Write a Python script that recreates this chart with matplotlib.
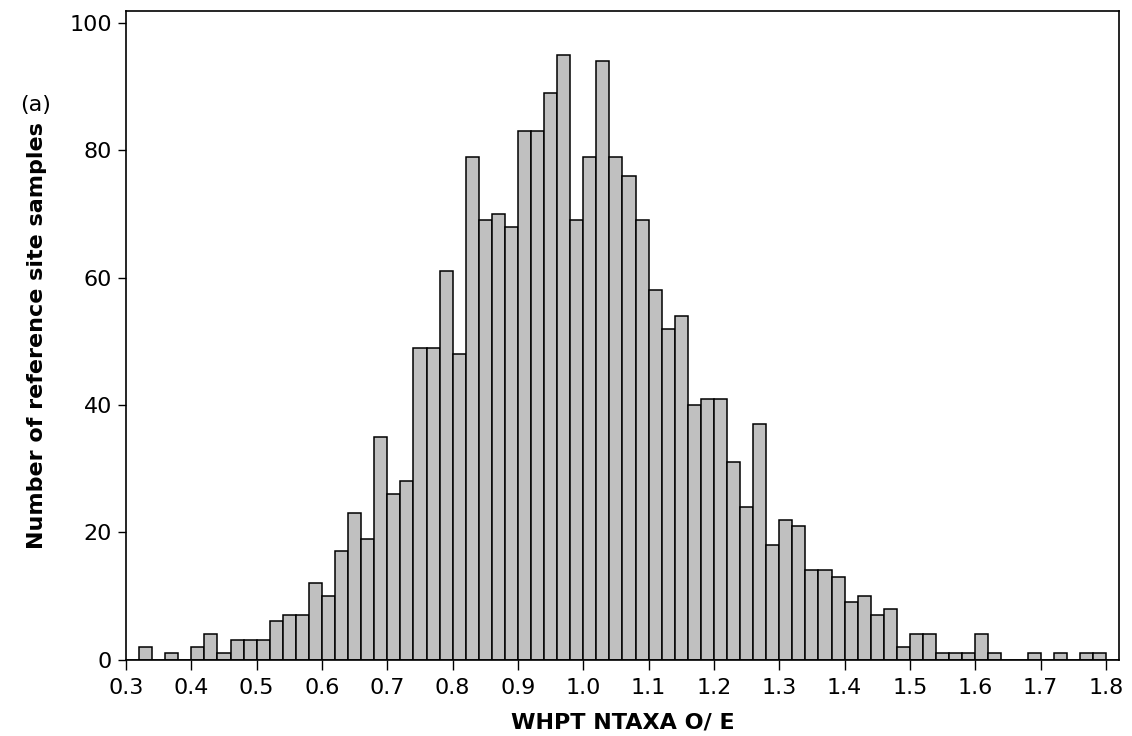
import numpy as np
import matplotlib
matplotlib.use("Agg")
import matplotlib.pyplot as plt

# histogram data (bin width 0.02, starting at 0.30)
bin_start = 0.30
bin_width = 0.02
counts = [0, 2, 0, 1, 0, 2, 4, 1, 3, 3,
          3, 6, 7, 7, 12, 10, 17, 23, 19, 35,
          26, 28, 49, 49, 61, 48, 79, 69, 70, 68,
          83, 83, 89, 95, 69, 79, 94, 79, 76, 69,
          58, 52, 54, 40, 41, 41, 31, 24, 37, 18,
          22, 21, 14, 14, 13, 9, 10, 7, 8, 2,
          4, 4, 1, 1, 1, 4, 1, 0, 0, 1,
          0, 1, 0, 1, 1, 0]
x_ticks = [0.3, 0.4, 0.5, 0.6, 0.7, 0.8, 0.9, 1.0, 1.1, 1.2, 1.3, 1.4, 1.5, 1.6, 1.7, 1.8]
y_ticks = [0, 20, 40, 60, 80, 100]

edges = bin_start + bin_width * np.arange(len(counts))

fig = plt.figure(figsize=(11.32, 7.36), dpi=100)
ax = fig.add_axes([0.1113, 0.1039, 0.8772, 0.8811])

ax.bar(edges, counts, width=bin_width, align="edge",
       color="#c0c0c0", edgecolor="black", linewidth=1.1)

ax.set_xlim(0.3, 1.82)
ax.set_ylim(0, 101.9)
ax.set_xticks(x_ticks)
ax.set_xticklabels([f"{t:.1f}" for t in x_ticks])
ax.set_yticks(y_ticks)
ax.tick_params(axis="x", direction="out", length=7.5, width=1.0,
               labelsize=16, pad=6)
ax.tick_params(axis="y", direction="out", length=6, width=1.0,
               labelsize=16, pad=4)

for s in ax.spines.values():
    s.set_linewidth(1.2)

ax.set_xlabel("WHPT NTAXA O/ E", fontsize=16, fontweight="bold", labelpad=10)
ax.set_ylabel("Number of reference site samples", fontsize=16,
              fontweight="bold", labelpad=16)

fig.text(0.031, 0.857, "(a)", fontsize=16, ha="center", va="center")

fig.savefig("out.png", dpi=100)
